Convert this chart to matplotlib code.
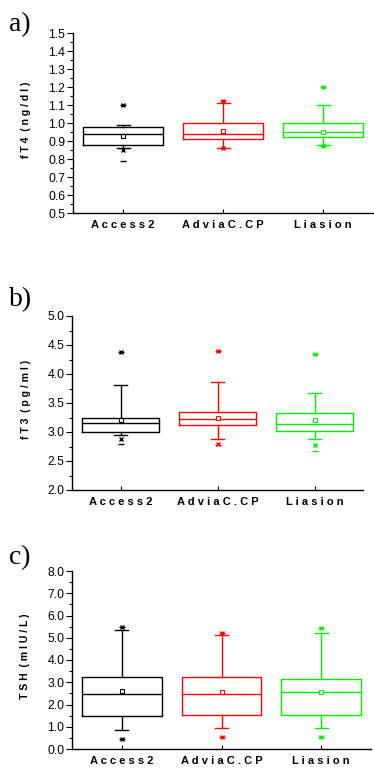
import matplotlib
matplotlib.use("Agg")
import matplotlib.pyplot as plt
from matplotlib.ticker import MultipleLocator, FormatStrFormatter

categories = ["Access2", "AdviaC.CP", "Liasion"]
colors = ["#000000", "#ff0000", "#00ee00"]

# fT4 (ng/dl)
fT4_q1 = [0.88, 0.91, 0.92]
fT4_med = [0.94, 0.94, 0.95]
fT4_q3 = [0.98, 1.00, 1.00]
fT4_mean = [0.93, 0.955, 0.95]
fT4_whislo = [0.86, 0.86, 0.88]
fT4_whishi = [0.99, 1.11, 1.10]
fT4_p1 = [0.85, 0.86, 0.87]
fT4_p99 = [1.10, 1.12, 1.20]
fT4_min = [0.79, 0.86, 0.87]
fT4_max = [1.10, 1.12, 1.20]

# fT3 (pg/ml)
fT3_q1 = [3.00, 3.12, 3.02]
fT3_med = [3.15, 3.22, 3.14]
fT3_q3 = [3.25, 3.34, 3.33]
fT3_mean = [3.20, 3.25, 3.20]
fT3_whislo = [2.95, 2.88, 2.88]
fT3_whishi = [3.81, 3.87, 3.67]
fT3_p1 = [2.88, 2.80, 2.78]
fT3_p99 = [4.38, 4.40, 4.34]
fT3_min = [2.80, 2.78, 2.68]
fT3_max = [4.38, 4.40, 4.34]

# TSH (mIU/L)
TSH_q1 = [1.48, 1.55, 1.52]
TSH_med = [2.45, 2.45, 2.55]
TSH_q3 = [3.22, 3.22, 3.15]
TSH_mean = [2.60, 2.55, 2.55]
TSH_whislo = [0.85, 0.93, 0.95]
TSH_whishi = [5.35, 5.12, 5.22]
TSH_p1 = [0.45, 0.55, 0.52]
TSH_p99 = [5.50, 5.22, 5.42]
TSH_min = [0.45, 0.55, 0.52]
TSH_max = [5.50, 5.22, 5.42]

panels = [
    dict(letter="a)", ylabel="f T 4  ( n g / d l )", ylim=(0.5, 1.5), major=0.1, minor=0.05,
         q1=fT4_q1, med=fT4_med, q3=fT4_q3, mean=fT4_mean, lo=fT4_whislo, hi=fT4_whishi,
         p1=fT4_p1, p99=fT4_p99, mn=fT4_min, mx=fT4_max,
         rect=[73/374, 1-213/769, 300/374, 180/769], lety=25),
    dict(letter="b)", ylabel="f T 3  ( p g / m l )", ylim=(2.0, 5.0), major=0.5, minor=0.25,
         q1=fT3_q1, med=fT3_med, q3=fT3_q3, mean=fT3_mean, lo=fT3_whislo, hi=fT3_whishi,
         p1=fT3_p1, p99=fT3_p99, mn=fT3_min, mx=fT3_max,
         rect=[72/374, 1-490/769, 291/374, 174/769], lety=300),
    dict(letter="c)", ylabel="T S H  ( m I U / L )", ylim=(0.0, 8.0), major=1.0, minor=0.5,
         q1=TSH_q1, med=TSH_med, q3=TSH_q3, mean=TSH_mean, lo=TSH_whislo, hi=TSH_whishi,
         p1=TSH_p1, p99=TSH_p99, mn=TSH_min, mx=TSH_max,
         rect=[72/374, 1-749/769, 299/374, 178/769], lety=558),
]

sans = ["Liberation Sans", "DejaVu Sans"]
xlabels = ["A c c e s s 2", "A d v i a C . C P", "L i a s i o n"]

fig = plt.figure(figsize=(3.74, 7.69), dpi=100)

for p in panels:
    ax = fig.add_axes(p["rect"])
    xs = [1, 2, 3]
    for i, x in enumerate(xs):
        c = colors[i]
        st = [dict(med=p["med"][i], q1=p["q1"][i], q3=p["q3"][i],
                   whislo=p["lo"][i], whishi=p["hi"][i], mean=p["mean"][i], fliers=[])]
        ax.bxp(st, positions=[x], widths=0.8, capwidths=0.13, showmeans=True,
               showfliers=False,
               boxprops=dict(color=c, lw=1.0),
               medianprops=dict(color=c, lw=1.0),
               whiskerprops=dict(color=c, lw=1.0),
               capprops=dict(color=c, lw=1.0),
               meanprops=dict(marker="s", markersize=2.8, markerfacecolor="white",
                              markeredgecolor=c, markeredgewidth=0.8))
        ax.plot([x, x], [p["p1"][i], p["p99"][i]], ls="none", marker="x",
                ms=3, mew=1.0, color=c)
        ax.plot([x, x], [p["mn"][i], p["mx"][i]], ls="none", marker="_",
                ms=4, mew=1.0, color=c)
    ax.set_xlim(0.5, 3.5)
    ax.set_ylim(*p["ylim"])
    ax.spines["top"].set_visible(False)
    ax.spines["right"].set_visible(False)
    for s in ("left", "bottom"):
        ax.spines[s].set_linewidth(1.0)
    ax.yaxis.set_major_locator(MultipleLocator(p["major"]))
    ax.yaxis.set_minor_locator(MultipleLocator(p["minor"]))
    ax.yaxis.set_major_formatter(FormatStrFormatter("%.1f"))
    ax.tick_params(axis="y", which="major", direction="out", length=4, width=0.8,
                   labelsize=8.8, pad=1.5)
    ax.tick_params(axis="y", which="minor", direction="out", length=2.5, width=0.8)
    for lab in ax.get_yticklabels():
        lab.set_family(sans)
    ax.set_xticks(xs)
    ax.set_xticklabels(xlabels)
    ax.tick_params(axis="x", direction="in", length=3, width=0.8, pad=5)
    for lab in ax.get_xticklabels():
        lab.set_family(sans)
        lab.set_fontweight("bold")
        lab.set_fontsize(8.0)
    ax.set_ylabel(p["ylabel"], family=sans, fontweight="bold", fontsize=7.6)
    ax.yaxis.set_label_coords(-0.14, 0.52)
    fig.text(9/374, 1 - p["lety"]/769, p["letter"], family=["Liberation Serif", "DejaVu Serif"],
             fontsize=20, va="center", ha="left")

fig.savefig("out.png", dpi=100)
